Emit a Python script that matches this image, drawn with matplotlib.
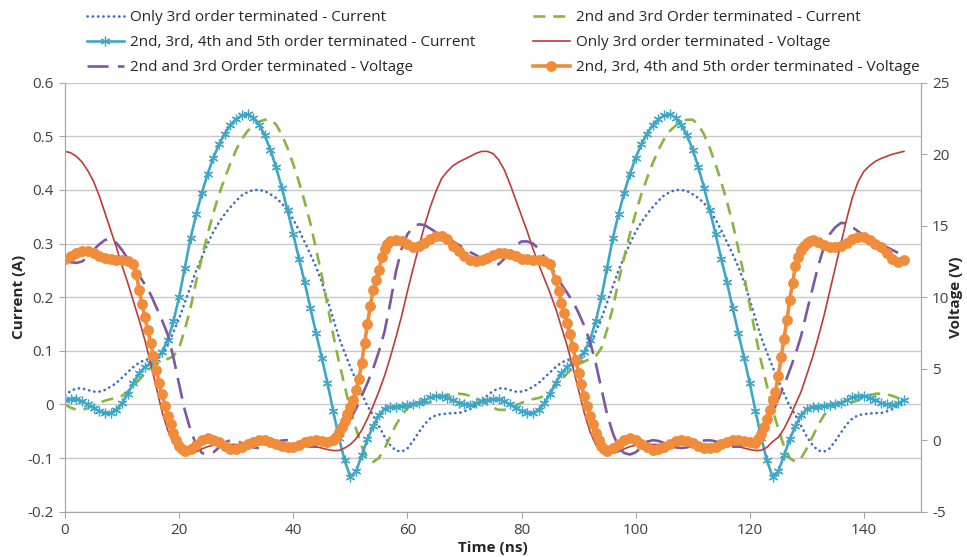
# Current and voltage waveforms for the different harmonic terminations

import numpy as np
import matplotlib.pyplot as plt
from matplotlib.ticker import FuncFormatter


plt.rcParams['font.family'] = ['Open Sans', 'DejaVu Sans']
plt.rcParams['axes.unicode_minus'] = False


# time axis for the current traces and the first three voltage traces, ns
time = np.arange(0, 148)

# Only 3rd order terminated - Current (A)
i_only3 = [
    0.017, 0.025, 0.03, 0.03, 0.027, 0.024, 0.024, 0.027, 0.033, 0.04,
    0.05, 0.06, 0.07, 0.078, 0.083, 0.085, 0.088, 0.095, 0.11, 0.135,
    0.16, 0.19, 0.22, 0.25, 0.275, 0.30, 0.322, 0.34, 0.355, 0.368,
    0.38, 0.39, 0.396, 0.40, 0.40, 0.398, 0.392, 0.385, 0.375, 0.362,
    0.345, 0.325, 0.303, 0.28, 0.257, 0.228, 0.195, 0.16, 0.125, 0.097,
    0.07, 0.045, 0.02, -0.003, -0.02, -0.04, -0.06, -0.076, -0.086, -0.088,
    -0.082, -0.068, -0.052, -0.037, -0.026, -0.02, -0.018, -0.017, -0.016, -0.016,
    -0.013, -0.008, -0.002, 0.005,
    0.017, 0.025, 0.03, 0.03, 0.027, 0.024, 0.024, 0.027, 0.033, 0.04,
    0.05, 0.06, 0.07, 0.078, 0.083, 0.085, 0.088, 0.095, 0.11, 0.135,
    0.16, 0.19, 0.22, 0.25, 0.275, 0.30, 0.322, 0.34, 0.355, 0.368,
    0.38, 0.39, 0.396, 0.40, 0.40, 0.398, 0.392, 0.385, 0.375, 0.362,
    0.345, 0.325, 0.303, 0.28, 0.257, 0.228, 0.195, 0.16, 0.125, 0.097,
    0.07, 0.045, 0.02, -0.003, -0.02, -0.04, -0.06, -0.076, -0.086, -0.088,
    -0.082, -0.068, -0.052, -0.037, -0.026, -0.02, -0.018, -0.017, -0.016, -0.016,
    -0.013, -0.008, -0.002, 0.005,
]

# 2nd and 3rd Order terminated - Current (A)
i_23 = [
    0.0, -0.006, -0.01, -0.01, -0.007, -0.002, 0.003, 0.007, 0.01, 0.012,
    0.016, 0.024, 0.035, 0.046, 0.058, 0.068, 0.075, 0.08, 0.085, 0.09,
    0.105, 0.14, 0.18, 0.23, 0.275, 0.318, 0.357, 0.392, 0.422, 0.45,
    0.475, 0.495, 0.51, 0.52, 0.527, 0.531, 0.531, 0.522, 0.503, 0.478,
    0.448, 0.415, 0.378, 0.338, 0.29, 0.24, 0.185, 0.13, 0.08, 0.035,
    -0.01, -0.045, -0.078, -0.1, -0.107, -0.1, -0.082, -0.06, -0.038, -0.02,
    -0.007, 0.0, 0.002, 0.002, 0.004, 0.008, 0.013, 0.017, 0.02, 0.02,
    0.019, 0.016, 0.012, 0.006,
    0.0, -0.006, -0.01, -0.01, -0.007, -0.002, 0.003, 0.007, 0.01, 0.012,
    0.016, 0.024, 0.035, 0.046, 0.058, 0.068, 0.075, 0.08, 0.085, 0.09,
    0.105, 0.14, 0.18, 0.23, 0.275, 0.318, 0.357, 0.392, 0.422, 0.45,
    0.475, 0.495, 0.51, 0.52, 0.527, 0.531, 0.531, 0.522, 0.503, 0.478,
    0.448, 0.415, 0.378, 0.338, 0.29, 0.24, 0.185, 0.13, 0.08, 0.035,
    -0.01, -0.045, -0.078, -0.1, -0.107, -0.1, -0.082, -0.06, -0.038, -0.02,
    -0.007, 0.0, 0.002, 0.002, 0.004, 0.008, 0.013, 0.017, 0.02, 0.02,
    0.019, 0.016, 0.012, 0.006,
]

# 2nd, 3rd, 4th and 5th order terminated - Current (A)
i_2345 = [
    0.008, 0.01, 0.01, 0.006, 0.0, -0.007, -0.012, -0.015, -0.016, -0.01,
    0.002, 0.02, 0.04, 0.058, 0.07, 0.077, 0.085, 0.098, 0.12, 0.155,
    0.2, 0.255, 0.31, 0.355, 0.395, 0.43, 0.46, 0.485, 0.505, 0.521,
    0.532, 0.539, 0.541, 0.535, 0.522, 0.502, 0.475, 0.442, 0.404, 0.362,
    0.318, 0.272, 0.228, 0.18, 0.133, 0.087, 0.04, -0.012, -0.062, -0.104,
    -0.135, -0.125, -0.095, -0.065, -0.04, -0.02, -0.008, -0.005, -0.004, -0.003,
    -0.001, 0.001, 0.003, 0.008, 0.013, 0.016, 0.016, 0.012, 0.008, 0.003,
    0.0, -0.001, 0.002, 0.006,
    0.008, 0.01, 0.01, 0.006, 0.0, -0.007, -0.012, -0.015, -0.016, -0.01,
    0.002, 0.02, 0.04, 0.058, 0.07, 0.077, 0.085, 0.098, 0.12, 0.155,
    0.2, 0.255, 0.31, 0.355, 0.395, 0.43, 0.46, 0.485, 0.505, 0.521,
    0.532, 0.539, 0.541, 0.535, 0.522, 0.502, 0.475, 0.442, 0.404, 0.362,
    0.318, 0.272, 0.228, 0.18, 0.133, 0.087, 0.04, -0.012, -0.062, -0.104,
    -0.135, -0.125, -0.095, -0.065, -0.04, -0.02, -0.008, -0.005, -0.004, -0.003,
    -0.001, 0.001, 0.003, 0.008, 0.013, 0.016, 0.016, 0.012, 0.008, 0.003,
    0.0, -0.001, 0.002, 0.008,
]

# Only 3rd order terminated - Voltage (V)
v_only3 = [
    20.2, 20.1, 19.85, 19.45, 18.85, 18.1, 17.1, 15.9, 14.7, 13.5,
    12.2, 11.0, 9.7, 8.4, 7.0, 5.4, 3.7, 2.0, 0.7, -0.2,
    -0.7, -0.9, -0.9, -0.8, -0.6, -0.45, -0.35, -0.3, -0.3, -0.3,
    -0.3, -0.3, -0.3, -0.3, -0.3, -0.3, -0.3, -0.3, -0.3, -0.3,
    -0.3, -0.3, -0.32, -0.38, -0.45, -0.55, -0.65, -0.72, -0.72, -0.55,
    -0.3, 0.1, 0.7, 1.5, 2.4, 3.4, 4.5, 5.8, 7.2, 8.7,
    10.4, 12.0, 13.5, 15.0, 16.3, 17.4, 18.3, 18.8, 19.2, 19.45,
    19.65, 19.85, 20.05, 20.2,
    20.2, 20.05, 19.6, 18.9, 17.9, 16.8, 15.7, 14.6, 13.4, 12.3,
    11.3, 10.3, 9.2, 7.9, 6.6, 5.1, 3.5, 1.9, 0.6, -0.3,
    -0.75, -0.9, -0.9, -0.8, -0.6, -0.45, -0.35, -0.3, -0.3, -0.3,
    -0.3, -0.3, -0.3, -0.3, -0.3, -0.3, -0.3, -0.3, -0.3, -0.3,
    -0.3, -0.3, -0.32, -0.38, -0.45, -0.55, -0.65, -0.72, -0.7, -0.5,
    -0.1, 0.2, 0.8, 1.6, 2.5, 3.4, 4.6, 5.8, 7.2, 8.7,
    10.4, 12.1, 13.8, 15.5, 17.0, 18.1, 18.8, 19.2, 19.5, 19.7,
    19.85, 20.0, 20.1, 20.2,
]

# 2nd and 3rd Order terminated - Voltage (V)
v_23 = [
    12.6, 12.45, 12.4, 12.5, 12.8, 13.3, 13.7, 14.0, 14.1, 13.8,
    13.3, 12.7, 12.1, 11.5, 10.9, 10.2, 9.3, 8.4, 7.4, 5.8,
    3.9, 2.1, 0.7, -0.3, -0.9, -1.0, -0.85, -0.5, -0.15, 0.0,
    -0.05, -0.2, -0.35, -0.5, -0.55, -0.5, -0.35, -0.15, -0.02, 0.0,
    -0.08, -0.22, -0.37, -0.45, -0.45, -0.35, -0.15, 0.1, 0.4, 0.8,
    1.5, 2.2, 3.1, 4.0, 5.0, 6.2, 7.6, 9.6, 11.8, 13.4,
    14.4, 14.9, 15.1, 15.05, 14.8, 14.55, 14.3, 14.1, 13.9, 13.65,
    13.4, 13.15, 12.95, 12.7,
    12.5, 12.3, 12.3, 12.7, 13.2, 13.6, 13.9, 13.9, 13.75, 13.4,
    12.8, 12.2, 11.6, 10.9, 10.3, 9.7, 8.9, 8.0, 6.9, 5.4,
    3.6, 1.8, 0.5, -0.5, -0.9, -1.0, -0.85, -0.5, -0.1, 0.0,
    -0.05, -0.2, -0.35, -0.5, -0.55, -0.5, -0.35, -0.15, -0.02, 0.0,
    -0.08, -0.22, -0.37, -0.45, -0.45, -0.3, -0.05, 0.3, 0.8, 1.3,
    1.9, 2.9, 3.8, 4.9, 6.0, 7.3, 9.0, 10.6, 12.2, 13.5,
    14.4, 14.9, 15.2, 15.15, 14.9, 14.6, 14.3, 14.1, 13.9, 13.7,
    13.5, 13.3, 13.1, 12.9,
]

# 2nd, 3rd, 4th and 5th order terminated - Voltage, sampled finer on the edges
time_v2345 = np.concatenate([
    np.arange(0, 12, 1.0), np.arange(12, 21, 0.5), np.arange(21, 47, 1.0),
    np.arange(47, 57, 0.5), np.arange(57, 74, 1.0),
    np.arange(74, 86, 1.0), np.arange(86, 95, 0.5), np.arange(95, 121, 1.0),
    np.arange(121, 131, 0.5), np.arange(131, 148, 1.0),
])
v_2345 = [
    12.7, 12.9, 13.1, 13.25, 13.25, 13.1, 12.9, 12.75, 12.65, 12.6, 12.6, 12.55,
    12.3, 11.6, 10.5, 9.5, 8.6, 7.7, 6.8, 5.9, 4.9, 4.0, 3.2, 2.4, 1.7, 1.1,
    0.5, 0.0, -0.4, -0.6,
    -0.75, -0.6, -0.3, 0.0, 0.12, 0.05, -0.15, -0.4, -0.58, -0.58, -0.45, -0.28,
    -0.1, 0.0, 0.0, -0.1, -0.25, -0.42, -0.5, -0.45, -0.32, -0.15, -0.03, 0.0,
    -0.05, -0.1,
    0.0, 0.25, 0.6, 0.95, 1.35, 1.8, 2.3, 2.8, 3.5, 4.3, 5.4, 6.8, 8.1, 9.4,
    10.5, 11.2, 11.9, 12.8, 13.4, 13.75,
    13.9, 14.0, 13.9, 13.7, 13.5, 13.55, 13.8, 14.1, 14.25, 14.3, 14.05, 13.6,
    13.2, 12.85, 12.6, 12.5, 12.6,
    12.75, 12.95, 13.1, 13.1, 13.0, 12.85, 12.7, 12.65, 12.6, 12.6, 12.55, 12.3,
    11.2, 10.4, 9.6, 8.9, 8.2, 7.4, 6.5, 5.6, 4.7, 3.9, 3.1, 2.4, 1.7, 1.1,
    0.5, 0.0, -0.4, -0.6,
    -0.75, -0.55, -0.25, 0.05, 0.12, 0.0, -0.25, -0.5, -0.65, -0.6, -0.45, -0.25,
    -0.08, 0.0, -0.05, -0.2, -0.38, -0.52, -0.55, -0.45, -0.28, -0.1, 0.0, 0.0,
    -0.08, -0.12,
    -0.2, 0.1, 0.45, 0.9, 1.5, 2.1, 2.8, 3.4, 4.5, 5.8, 7.1, 8.4, 9.8, 11.0,
    12.2, 12.8, 13.3, 13.6, 13.8, 13.9,
    14.0, 13.85, 13.65, 13.5, 13.5, 13.6, 13.8, 14.05, 14.2, 14.2, 14.0, 13.75,
    13.5, 13.1, 12.7, 12.45, 12.6,
]

x_ticks = np.arange(0, 141, 20)
i_ticks = np.arange(-0.2, 0.61, 0.1)
v_ticks = np.arange(-5, 26, 5)


fig = plt.figure(figsize=(9.67, 5.57), dpi=100)
ax = fig.add_axes([0.0672, 0.0813, 0.8852, 0.7702])
ax2 = ax.twinx()

l1, = ax.plot(time, i_only3, color='#3F6EBF', lw=1.9, linestyle=(0, (0.1, 1.9)),
              dash_capstyle='round', label='Only 3rd order terminated - Current')
l2, = ax.plot(time, i_23, color='#8AB440', lw=1.9, linestyle=(0, (4.5, 3.0)),
              label='2nd and 3rd Order terminated - Current')
l3, = ax.plot(time, i_2345, color='#3FA6C5', lw=1.9, marker=(6, 2, 0), ms=7, mew=0.9,
              label='2nd, 3rd, 4th and 5th order terminated - Current')

l4, = ax2.plot(time, v_only3, color='#BE3B36', lw=1.2,
               label='Only 3rd order terminated - Voltage')
l5, = ax2.plot(time, v_23, color='#7A58A6', lw=1.9, linestyle=(0, (8.0, 3.5)),
               label='2nd and 3rd Order terminated - Voltage')
l6, = ax2.plot(time_v2345, v_2345, color='#F08C3A', lw=2.6, marker='o', ms=6.8,
               label='2nd, 3rd, 4th and 5th order terminated - Voltage')


ax.set_xlim(0, 150)
ax.set_ylim(-0.2, 0.6)
ax2.set_ylim(-5, 25)
ax.set_xticks(x_ticks)
ax.set_yticks(i_ticks)
ax2.set_yticks(v_ticks)
ax.yaxis.set_major_formatter(FuncFormatter(lambda v, p: f'{round(v, 1):g}'))

ax.grid(axis='y', color='#C8C8C8', lw=1)
ax.set_axisbelow(True)

for a in (ax, ax2):
    for s in a.spines.values():
        s.set_color('#A6A6A6')
    a.spines['top'].set_visible(False)
    a.tick_params(colors='#A6A6A6', labelcolor='#404040', labelsize=11,
                  length=4, pad=4)

ax.set_xlabel('Time (ns)', fontsize=11, fontweight='bold', color='#262626', labelpad=2)
ax.set_ylabel('Current (A)', fontsize=11, fontweight='bold', color='#262626', labelpad=1)
ax2.set_ylabel('Voltage (V)', fontsize=11, fontweight='bold', color='#262626', labelpad=0)


legend_kw = dict(loc='upper left', frameon=False, fontsize=11, ncol=1,
                 handlelength=2.4, handletextpad=0.4, labelspacing=0.66,
                 borderpad=0, borderaxespad=0)
leg1 = fig.legend(handles=[l1, l3, l5], bbox_to_anchor=(87 / 967, 1 - 10 / 557), **legend_kw)
leg2 = fig.legend(handles=[l2, l4, l6], bbox_to_anchor=(533 / 967, 1 - 10 / 557), **legend_kw)
for leg in (leg1, leg2):
    for t in leg.get_texts():
        t.set_color('#262626')

plt.savefig('out.png', dpi=100)
